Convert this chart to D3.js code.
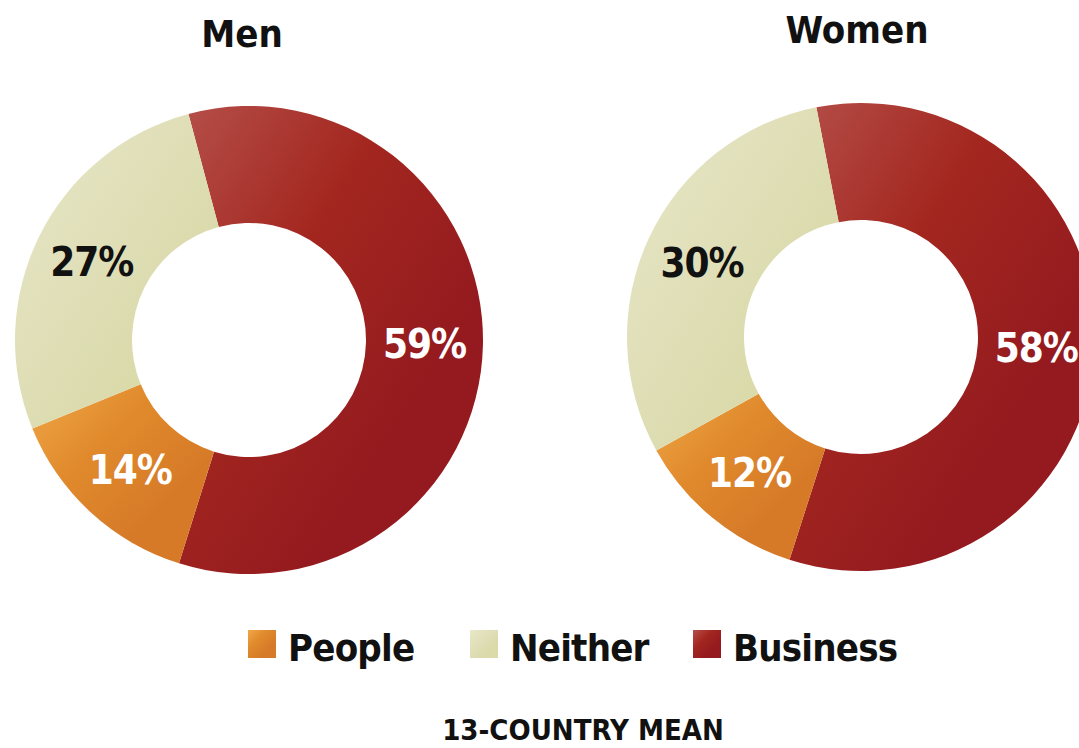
<!DOCTYPE html>
<html>
<head>
<meta charset="utf-8">
<script src="https://cdn.jsdelivr.net/npm/d3@7"></script>
<style>
  body { margin: 0; background: #fff; }
  text { font-family: "DejaVu Sans Condensed", "DejaVu Sans", sans-serif; font-weight: bold; }
</style>
</head>
<body>
<div id="chart"></div>
<script>
var svgWidth = 1079;
var svgHeight = 748;

// data
var categories = ["Business", "People", "Neither"];
var groups = ["Men", "Women"];
var menValues = [59, 14, 27];
var womenValues = [58, 12, 30];
var legendOrder = ["People", "Neither", "Business"];
var footer = "13-COUNTRY MEAN";

var svg = d3.select("#chart")
    .append("svg")
    .attr("width", svgWidth)
    .attr("height", svgHeight);

// gradients, light top-left to darker bottom-right
var gradStops = {
    Business: ["#b54f4a", "#a3271f", "#941a1f"],
    People: ["#f0a748", "#e08a2c", "#d67a28"],
    Neither: ["#e8e8c8", "#e1e0bb", "#dadaab"]
};
var textColor = { Business: "#fff", People: "#fff", Neither: "#111" };

var defs = svg.append("defs");
categories.forEach(function(c){
    var g = defs.append("linearGradient")
        .attr("id", "grad-" + c)
        .attr("x1", 0).attr("y1", 0)
        .attr("x2", 1).attr("y2", 1);
    g.append("stop").attr("offset", "0%").attr("stop-color", gradStops[c][0]);
    g.append("stop").attr("offset", "35%").attr("stop-color", gradStops[c][1]);
    g.append("stop").attr("offset", "70%").attr("stop-color", gradStops[c][2]);
});

var outerR = 234, innerR = 117;
var charts = [
    { title: "Men", values: menValues, cx: 249, cy: 340, start: -15, titleX: 242, titleY: 47 },
    { title: "Women", values: womenValues, cx: 861, cy: 337, start: -11, titleX: 857, titleY: 43 }
];

var arc = d3.arc().innerRadius(innerR).outerRadius(outerR);
var labelArc = d3.arc().innerRadius((innerR + outerR) / 2).outerRadius((innerR + outerR) / 2);

charts.forEach(function(ch){
    var pie = d3.pie()
        .sort(null)
        .value(d => d.value)
        .startAngle(ch.start * Math.PI / 180)
        .endAngle((ch.start + 360) * Math.PI / 180);
    var data = categories.map((c, i) => ({ cat: c, value: ch.values[i] }));

    var g = svg.append("g").attr("transform", `translate(${ch.cx},${ch.cy})`);
    g.selectAll("path")
        .data(pie(data))
        .enter()
        .append("path")
        .attr("d", arc)
        .attr("fill", d => `url(#grad-${d.data.cat})`);

    g.selectAll(".lbl")
        .data(pie(data))
        .enter()
        .append("text")
        .attr("class", "lbl")
        .attr("transform", d => `translate(${labelArc.centroid(d)})`)
        .attr("text-anchor", "middle")
        .attr("dy", "0.36em")
        .style("font-size", "40px")
        .style("letter-spacing", "-1px")
        .attr("fill", d => textColor[d.data.cat])
        .text(d => d.data.value + "%");

    svg.append("text")
        .attr("x", ch.titleX)
        .attr("y", ch.titleY)
        .attr("text-anchor", "middle")
        .style("font-size", "38px")
        .attr("fill", "#111")
        .text(ch.title);
});

// legend
var legendX = { People: 248, Neither: 470, Business: 693 };
var legend = svg.append("g");
legendOrder.forEach(function(c){
    legend.append("rect")
        .attr("x", legendX[c])
        .attr("y", 630)
        .attr("width", 28)
        .attr("height", 28)
        .attr("fill", `url(#grad-${c})`);
    legend.append("text")
        .attr("x", legendX[c] + 40)
        .attr("y", 661)
        .style("font-size", "38px")
        .style("letter-spacing", "-0.8px")
        .attr("fill", "#111")
        .text(c);
});

svg.append("text")
    .attr("x", 583)
    .attr("y", 740)
    .attr("text-anchor", "middle")
    .style("font-size", "29px")
    .attr("fill", "#111")
    .text(footer);
</script>
</body>
</html>
